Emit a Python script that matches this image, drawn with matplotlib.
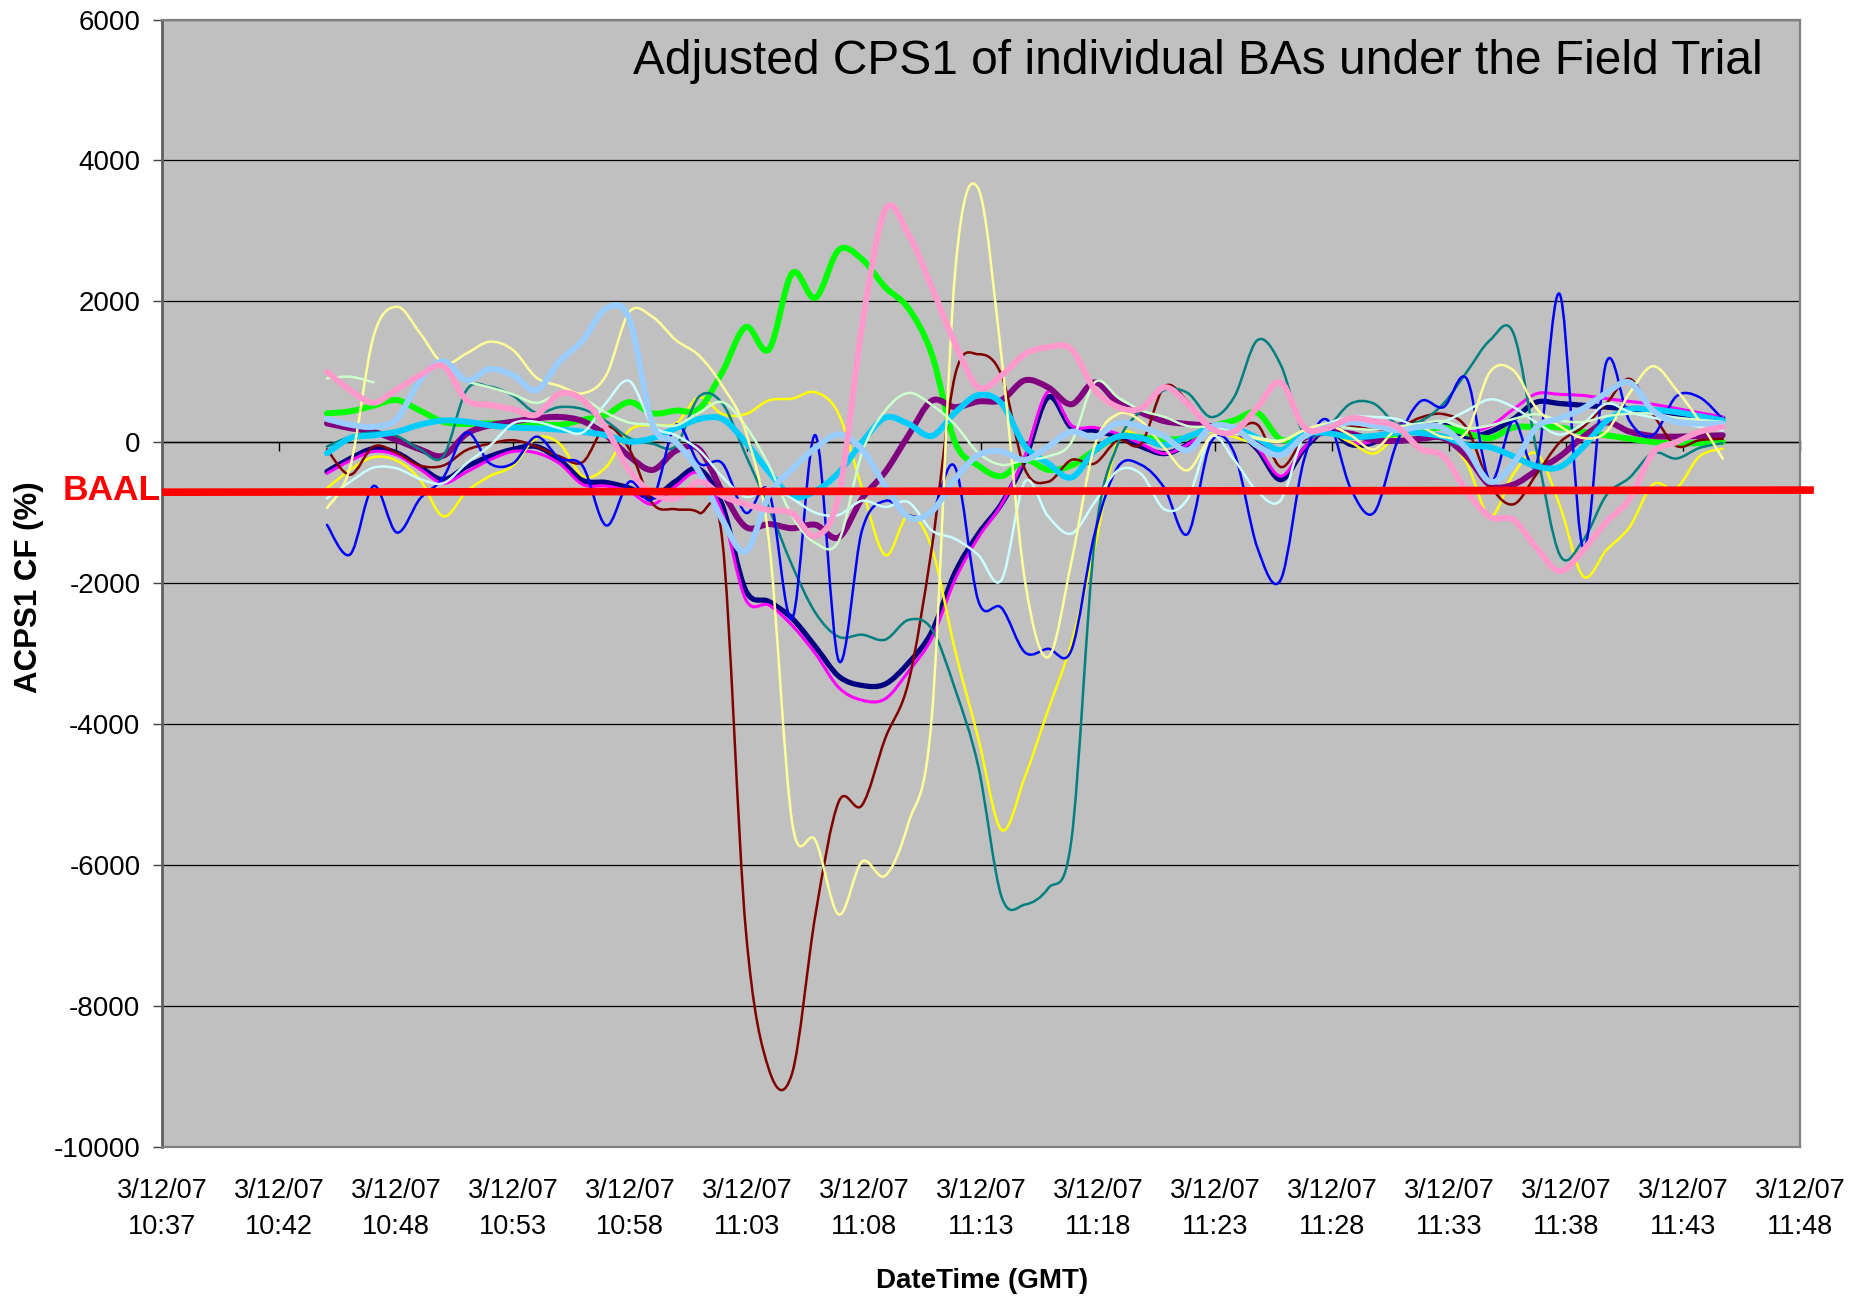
import numpy as np
import matplotlib
matplotlib.use("Agg")
import matplotlib.pyplot as plt
from matplotlib.path import Path
from matplotlib.patches import PathPatch

nan = np.nan

# ---------------- data ----------------
# sample times, minutes after 10:37 GMT (one reading per ~minute)
minutes = np.linspace(7.15, 67.65, 61)

x_tick_labels = ["3/12/07\n10:37", "3/12/07\n10:42", "3/12/07\n10:48", "3/12/07\n10:53",
                 "3/12/07\n10:58", "3/12/07\n11:03", "3/12/07\n11:08", "3/12/07\n11:13",
                 "3/12/07\n11:18", "3/12/07\n11:23", "3/12/07\n11:28", "3/12/07\n11:33",
                 "3/12/07\n11:38", "3/12/07\n11:43", "3/12/07\n11:48"]
y_ticks = [-10000, -8000, -6000, -4000, -2000, 0, 2000, 4000, 6000]
baal_level = [-708, -678]

navy = [-416, -230, -90, -150, -350, -530, -345, -200, -100, -60,
        -250, -540, -570, -650, -780, -550, -380, -900, -2100, -2260,
        -2500, -2900, -3320, -3450, -3430, -3130, -2690, -1850, -1300, -870,
        -250, 640, 210, 170, 80, -60, -160, -30, 210, 170,
        -100, -530, -100, 180, -30, 0, 230, 260, 250, 80,
        150, 330, 570, 550, 525, 500, 470, 430, 400, 370, 340]
magenta = [-440, -260, -130, -180, -380, -580, -420, -250, -130, -150,
           -300, -600, -620, -700, -880, -620, -440, -1000, -2230, -2310,
           -2600, -3000, -3480, -3660, -3640, -3250, -2780, -1950, -1350, -880,
           -200, 720, 240, 210, 120, -20, -160, -30, 200, 150,
           -80, -480, -80, 200, 0, 20, 230, 250, 230, 150,
           230, 470, 690, 680, 665, 620, 580, 540, 480, 420, 360]
yellow = [-652, -390, -210, -260, -530, -1050, -700, -480, -330, 60,
          -20, -480, -350, 170, 246, 265, 640, 400, 400, 596,
          620, 710, 400, -650, -1600, -1030, -1500, -2950, -4200, -5500,
          -4750, -3800, -2850, -1500, 30, 76, 30, 60, 150, 76,
          -30, -80, 90, 140, 0, -160, 80, 110, 80, -300,
          -1050, -450, -160, -900, -1900, -1530, -1200, -600, -650, -200, -90]
green = [411, 440, 520, 600, 450, 290, 260, 269, 269, 260,
         246, 320, 390, 570, 411, 450, 477, 1000, 1636, 1320,
         2400, 2050, 2730, 2600, 2200, 1900, 1250, 0, -330, -480,
         -250, -390, -330, -113, 80, 70, 40, 70, 220, 312,
         420, 40, 130, 140, 90, 80, 120, 170, 210, 130,
         60, 210, 217, 210, 147, 100, 50, 5, -15, -10, 5]
purple = [269, 200, 150, 30, -100, -190, 120, 240, 293, 340,
          360, 300, 100, -200, -392, -120, -100, -700, -1200, -1160,
          -1220, -1170, -1350, -800, -420, 100, 590, 500, 580, 600,
          880, 780, 540, 850, 560, 420, 300, 260, 230, 170,
          0, -160, 60, 140, 123, 30, 20, 50, 60, -200,
          -610, -600, -400, -200, 76, 280, 150, 90, 80, 90, 100]
maroon = [-100, -460, -60, -150, -330, -330, -110, -20, 30, -60,
          -200, -280, 220, -100, -870, -950, -1000, -1400, -6900, -8900,
          -8950, -6700, -5100, -5150, -4200, -3400, -1500, 950, 1250, 950,
          -380, -560, -250, -300, 30, -20, 790, 580, 190, 170,
          250, -350, 50, 180, 230, 180, 200, 350, 400, 200,
          -600, -880, -450, 0, 220, 550, 900, 400, -50, 30, 50]
teal = [-61, 80, 140, 90, -100, -200, 742, 790, 660, 420,
        500, 470, 300, 60, -20, -50, 650, 550, -180, -930,
        -1750, -2420, -2760, -2730, -2800, -2520, -2650, -3500, -4600, -6450,
        -6560, -6330, -5650, -1400, -20, 450, 740, 700, 359, 643,
        1450, 1100, 120, 217, 548, 550, 260, 300, 550, 1000,
        1450, 1550, -113, -1600, -1390, -750, -500, -150, -230, -80, -10]
blue = [-1172, -1590, -620, -1280, -800, -500, 140, -300, -298, 80,
        -230, -340, -1180, -560, -800, 250, -300, -300, -1000, -700,
        -2500, 100, -3100, -1250, -830, -1030, -1000, -350, -2250, -2350,
        -2980, -2930, -2950, -1300, -350, -320, -650, -1300, 0, -150,
        -1500, -1950, -250, 320, -650, -1000, 0, 580, 500, 900,
        -550, 312, -300, 2100, -1500, 1139, 300, 100, 650, 640, 330]
sky = [-156, 60, 100, 150, 250, 310, 293, 240, 210, 199,
       180, 150, 100, 10, 60, 200, 330, 330, 0, -420,
       -770, -690, -430, 0, 350, 260, 90, 420, 670, 550,
       -50, -300, -500, -120, 80, 60, -40, 80, 190, 200,
       60, -110, 120, 130, 76, 90, 140, 130, 80, -40,
       -70, -200, -340, -350, -66, 300, 470, 460, 430, 370, 312]
light_turquoise = [-794, -560, -360, -370, -520, -580, -300, -50, 269, 290,
                   200, 140, 560, 870, 240, 100, -113, -490, -775, -650,
                   -800, -1000, -1030, -830, -917, -850, -1250, -1370, -1600, -1950,
                   -560, -1050, -1295, -850, -400, -450, -950, -800, 76, -250,
                   -700, -820, 100, 265, 359, 359, 330, 217, 290, 450,
                   610, 500, 280, 110, 265, 548, 430, 350, 290, 220, 170]
light_green = [908, 931, 850, nan, nan, nan, 860, 780, 680, 560,
               680, 620, 420, 280, 250, 240, 420, 570, 230, -330,
               -1050, -1430, -1400, -150, 450, 700, 530, 250, -150, -320,
               -250, -200, 0, 850, 640, 454, 360, 230, 217, 150,
               70, 28, 170, 250, 200, 180, 220, 270, 300, 200,
               240, 330, 400, 310, 288, 370, 406, 406, 350, 320, 288]
light_yellow = [-936, -345, 1500, 1924, 1550, 1120, 1262, 1428, 1309, 920,
                800, 695, 950, 1850, 1780, 1450, 1230, 800, 150, -1400,
                -5400, -5650, -6700, -5950, -6150, -5400, -3900, 2400, 3600, 1200,
                -1950, -3050, -1700, -50, 400, 300, -80, -397, 80, 123,
                50, 10, 170, 250, 100, -100, 190, 217, 76, 150,
                1000, 1021, 480, 230, 60, 150, 700, 1080, 750, 300, -232]
pale_blue = [330, 250, 220, 330, 880, 1150, 880, 1040, 950, 740,
             1150, 1450, 1900, 1750, 250, 0, -420, -1100, -1550, -750,
             -380, -80, 110, -100, -620, -1060, -980, -520, -180, -130,
             -250, -60, 150, 76, 270, 220, 80, -113, 217, 200,
             -50, -180, 80, 220, 280, 240, 170, 220, 200, -100,
             -560, -300, 217, 340, 480, 700, 850, 450, 290, 265, 265]
rose = [1000, 740, 560, 750, 950, 1080, 600, 530, 470, 390,
        690, 600, 200, -400, -720, -800, -560, -760, -880, -960,
        -1010, -1330, -750, 1650, 3300, 2950, 2200, 1400, 780, 950,
        1250, 1350, 1320, 750, 500, 480, 780, 548, 200, 150,
        500, 850, 217, 200, 340, 300, 220, -90, -200, -700,
        -1059, -1100, -1500, -1830, -1531, -1130, -800, -150, 0, 150, 217]

# (values, colour, line width) in Excel series order (later = drawn on top)
series = [
    (navy, "#000080", 3.8),
    (magenta, "#FF00FF", 2.2),
    (yellow, "#FFFF00", 1.8),
    (green, "#00FF00", 4.3),
    (purple, "#800080", 4.3),
    (maroon, "#800000", 1.8),
    (teal, "#008080", 1.8),
    (blue, "#0000FF", 1.8),
    (sky, "#00CCFF", 4.3),
    (light_turquoise, "#CCFFFF", 1.8),
    (light_green, "#CCFFCC", 1.8),
    (light_yellow, "#FFFF99", 1.8),
    (pale_blue, "#99CCFF", 4.3),
    (rose, "#FF99CC", 4.3),
]


def smooth_path(x, y):
    """Excel-style smoothed line: cubic Bezier segments through every point."""
    x = np.asarray(x, float)
    y = np.asarray(y, float)
    ok = ~np.isnan(y)
    verts, codes = [], []
    i = 0
    n = len(x)
    while i < n:
        if not ok[i]:
            i += 1
            continue
        j = i
        while j + 1 < n and ok[j + 1]:
            j += 1
        xs, ys = x[i:j + 1], y[i:j + 1]
        m = len(xs)
        verts.append((xs[0], ys[0]))
        codes.append(Path.MOVETO)
        for k in range(m - 1):
            xa, ya = (xs[k - 1], ys[k - 1]) if k > 0 else (xs[k], ys[k])
            xb, yb = (xs[k + 2], ys[k + 2]) if k + 2 < m else (xs[k + 1], ys[k + 1])
            c1 = (xs[k] + (xs[k + 1] - xa) / 6.0, ys[k] + (ys[k + 1] - ya) / 6.0)
            c2 = (xs[k + 1] - (xb - xs[k]) / 6.0, ys[k + 1] - (yb - ys[k]) / 6.0)
            verts += [c1, c2, (xs[k + 1], ys[k + 1])]
            codes += [Path.CURVE4] * 3
        i = j + 1
    return Path(verts, codes)


# ---------------- figure ----------------
plt.rcParams["font.family"] = ["Liberation Sans", "DejaVu Sans"]
fig = plt.figure(figsize=(18.72, 13.0), dpi=100)
ax = fig.add_axes([162 / 1872, 1 - 1147 / 1300, 1638 / 1872, 1127.5 / 1300])
ax.set_facecolor("#C0C0C0")

x_min, x_max = 0, 71
y_min, y_max = -10000, 6000
ax.set_xlim(x_min, x_max)
ax.set_ylim(y_min, y_max)

for k, (vals, col, lw) in enumerate(series):
    patch = PathPatch(smooth_path(minutes, vals), fill=False, edgecolor=col,
                      lw=lw, capstyle="round", joinstyle="round", zorder=3 + 0.01 * k)
    ax.add_patch(patch)

# grid and axes styling
ax.set_yticks(y_ticks)
ax.set_yticklabels([str(v) for v in y_ticks], fontsize=20)
ax.yaxis.grid(True, color="black", lw=0.9)
ax.set_axisbelow(True)
ax.tick_params(axis="y", direction="out", length=6.5, width=1.0, color="#404040", pad=9)

ax.set_xticks(np.linspace(x_min, x_max, len(x_tick_labels)))
ax.set_xticklabels(x_tick_labels, fontsize=19.5, linespacing=1.5)
ax.tick_params(axis="x", length=0, pad=22)

for side in ["top", "right", "bottom"]:
    ax.spines[side].set_color("#808080")
    ax.spines[side].set_linewidth(1.6)
ax.spines["left"].set_color("#606060")
ax.spines["left"].set_linewidth(2.0)

# category axis crossing at zero (line with tick marks, no labels)
zero_frac = (0 - y_min) / (y_max - y_min)
sec = ax.secondary_xaxis(zero_frac)
sec.set_alignment("bottom")
sec.set_xticks(np.linspace(x_min, x_max, len(x_tick_labels)))
sec.tick_params(axis="x", direction="out", length=6.5, width=1.0, color="black",
                labelbottom=False, labeltop=False)
sec.spines["bottom"].set_color("black")
sec.spines["bottom"].set_linewidth(1.0)

# BAAL line and label
ax.plot([x_min, x_max + 0.6], baal_level, color="#FF0000", lw=5.5,
        solid_capstyle="butt", clip_on=False, zorder=20)
ax.annotate("BAAL", xy=(x_min, baal_level[0]), xytext=(-1, 1.5), textcoords="offset points",
            ha="right", va="center", color="#FF0000", fontsize=25.5, weight="bold",
            annotation_clip=False, zorder=21)

# titles
ax.text(0.9774, 0.9517, "Adjusted CPS1 of individual BAs under the Field Trial",
        transform=ax.transAxes, ha="right", va="baseline", fontsize=34.5, color="black")
fig.text(29 / 1872, 1 - 587 / 1300, "ACPS1 CF (%)", rotation=90, ha="center", va="center",
         fontsize=22.5, weight="bold")
fig.text(982 / 1872, 1 - 1281 / 1300, "DateTime (GMT)", ha="center", va="center",
         fontsize=20, weight="bold")

fig.savefig("out.png", dpi=100, facecolor="white")
